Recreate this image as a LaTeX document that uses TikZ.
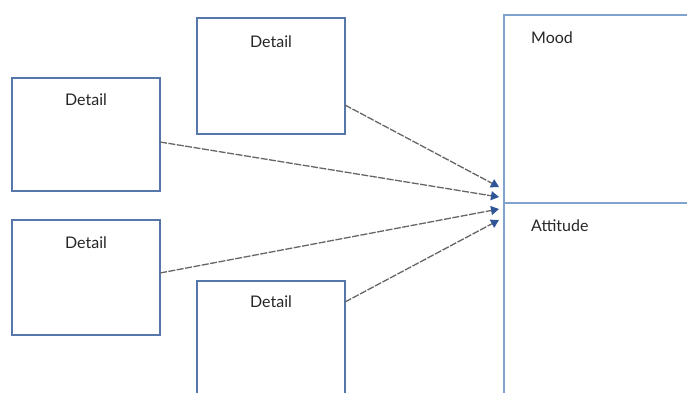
\documentclass[tikz,border=0pt]{standalone}
\usepackage{fontspec}
\setmainfont{Lato}
\usetikzlibrary{arrows.meta}
\definecolor{boxblue}{HTML}{5577AA}
\definecolor{bigblue}{HTML}{7FA3CC}
\definecolor{lineg}{HTML}{666666}
\definecolor{tipblue}{HTML}{2F5597}
\tikzset{
  detailbox/.style={draw=boxblue, line width=1.8pt, fill=white},
  lbl/.style={font=\fontsize{16}{18}\selectfont, text=black!85, inner sep=0pt},
  conn/.style={draw=lineg, line width=1.3pt, dash pattern=on 7pt off 1.5pt, -{Triangle[length=8pt,width=9pt,fill=tipblue,color=tipblue]}}
}
\begin{document}
\begin{tikzpicture}[x=1pt,y=-1pt]
\useasboundingbox (0,0) rectangle (687,392);
% big right box
\draw[draw=bigblue, line width=1.8pt] (504,395) -- (504,15) -- (690,15);
\draw[draw=bigblue, line width=1.8pt] (504,203) -- (690,203);
\node[lbl, anchor=west] (mood) at (531,38) {Mood};
\node[lbl, anchor=west] (att) at (531,226) {Attitude};
% boxes
\draw[detailbox] (12,78) rectangle (160,191);
\draw[detailbox] (197,18) rectangle (345,134);
\draw[detailbox] (12,220) rectangle (160,335);
\draw[detailbox] (197,281) rectangle (345,400);
\node[lbl] (d1) at (86,100) {Detail};
\node[lbl] (d2) at (271,42) {Detail};
\node[lbl] (d3) at (86,243) {Detail};
\node[lbl] (d4) at (271,302) {Detail};
\coordinate (b1) at (160,142);
\coordinate (b2) at (345,105);
\coordinate (b3) at (160,273);
\coordinate (b4) at (345,302);
\coordinate (t2) at (499,187);
\coordinate (t1) at (499,197);
\coordinate (t3) at (499,209);
\coordinate (t4) at (499,220);
\draw[conn] (b2) -- (t2);
\draw[conn] (b1) -- (t1);
\draw[conn] (b3) -- (t3);
\draw[conn] (b4) -- (t4);
\end{tikzpicture}
\end{document}
